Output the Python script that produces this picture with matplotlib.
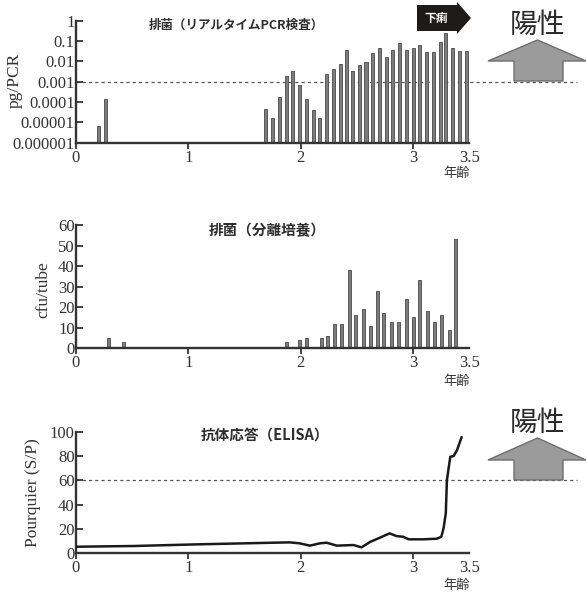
import numpy as np
import matplotlib
matplotlib.use("Agg")
import matplotlib.pyplot as plt
from matplotlib.patches import Polygon

# ---- data -------------------------------------------------------------
# Real-time PCR shedding (pg/PCR) by age in years
pcr_age = [0.20, 0.26, 1.69, 1.75, 1.81, 1.87, 1.93, 1.99, 2.05, 2.11, 2.17,
           2.23, 2.29, 2.35, 2.41, 2.46, 2.52, 2.58, 2.64, 2.70, 2.76, 2.82,
           2.88, 2.94, 3.00, 3.06, 3.12, 3.18, 3.24, 3.29, 3.35, 3.41, 3.47]
pcr_val = [6.6e-6, 1.4e-4, 4.6e-5, 1.7e-5, 1.7e-4, 2.0e-3, 3.5e-3, 6.6e-4,
           1.4e-4, 4.0e-5, 1.7e-5, 2.3e-3, 4.2e-3, 7.2e-3, 3.7e-2, 3.4e-3,
           6.6e-3, 9.5e-3, 2.7e-2, 4.5e-2, 1.6e-2, 3.7e-2, 7.9e-2, 3.7e-2,
           4.6e-2, 6.7e-2, 2.8e-2, 3.0e-2, 8.5e-2, 2.45e-1, 4.3e-2, 3.2e-2,
           3.2e-2]

# Culture shedding (cfu/tube)
cult_age = [0.29, 0.42, 1.87, 1.99, 2.05, 2.18, 2.24, 2.30, 2.36, 2.43, 2.49,
            2.56, 2.62, 2.68, 2.74, 2.81, 2.87, 2.94, 3.00, 3.06, 3.13, 3.19,
            3.25, 3.32, 3.38]
cult_val = [5, 3, 3, 4, 5, 5, 6, 12, 12, 38, 16, 19, 11, 28, 17, 13, 13, 24,
            15, 33, 18, 13, 16, 9, 53]

# ELISA antibody response (S/P, Pourquier)
elisa_age = [0.00, 0.51, 1.10, 1.90, 1.99, 2.08, 2.17, 2.23, 2.32, 2.47, 2.54,
             2.62, 2.71, 2.79, 2.85, 2.91, 2.96, 3.09, 3.21, 3.25, 3.27, 3.29,
             3.30, 3.33, 3.36, 3.39, 3.43]
elisa_val = [5.4, 6.0, 7.4, 9.0, 8.2, 6.3, 8.2, 8.7, 6.3, 6.8, 4.9, 9.5, 13.1,
             16.4, 14.2, 13.6, 11.5, 11.5, 12.0, 13.6, 20.5, 32.9, 60.2, 79.4,
             80.0, 84.9, 95.3]

pcr_cutoff = 1e-3
elisa_cutoff = 60

x_ticks = [0, 1, 2, 3, 3.5]
x_labels = ["0", "1", "2", "3", "3.5"]
pcr_ticks = [1e-6, 1e-5, 1e-4, 1e-3, 1e-2, 1e-1, 1]
pcr_labels = ["0.000001", "0.00001", "0.0001", "0.001", "0.01", "0.1", "1"]

# ---- style ------------------------------------------------------------
W, H = 586, 597
SERIF = ["Liberation Serif", "DejaVu Serif"]
JP = ["Noto Sans CJK JP", "DejaVu Sans"]
INK = "#333333"
BAR_FACE = "#7c7c7c"
BAR_EDGE = "#4a4a4a"

plt.rcParams["font.family"] = SERIF

fig = plt.figure(figsize=(W / 100, H / 100), dpi=100)


def fx(x):
    return x / W


def fy(y):
    return 1 - y / H


def make_axes(top_px, bottom_px):
    left, right = 76, 469.4
    ax = fig.add_axes([fx(left), fy(bottom_px), (right - left) / W,
                       (bottom_px - top_px) / H])
    for s in ("top", "right"):
        ax.spines[s].set_visible(False)
    for s in ("left", "bottom"):
        ax.spines[s].set_color(INK)
        ax.spines[s].set_linewidth(1.7)
    ax.set_xlim(0, 3.5)
    ax.set_xticks(x_ticks)
    ax.set_xticklabels(x_labels)
    ax.tick_params(axis="x", direction="out", length=4, width=1.3,
                   colors=INK, labelsize=12, pad=1)
    ax.tick_params(axis="y", direction="in", length=5, width=1.3,
                   colors=INK, labelsize=12, pad=1)
    ax.xaxis.get_major_ticks()[-1].tick1line.set_visible(False)
    ax.patch.set_alpha(0)
    for lab in ax.get_xticklabels() + ax.get_yticklabels():
        lab.set_color(INK)
    return ax


def y_label(x_px, y_px, text):
    fig.text(fx(x_px), fy(y_px), text, rotation=90, fontsize=12.5, color=INK,
             ha="center", va="center")


def up_arrow(y_top, y_neck, y_base):
    pts = [(488, y_neck), (537.5, y_top), (586, y_neck), (563, y_neck),
           (563, y_base), (514, y_base), (514, y_neck)]
    fig.add_artist(Polygon([(fx(a), fy(b)) for a, b in pts], closed=True,
                           transform=fig.transFigure, facecolor="#9b9b9b",
                           edgecolor="#6e6e6e", linewidth=1.0))


def age_label(y_px):
    fig.text(fx(470), fy(y_px), "年齢", family=JP, fontsize=9.5, color=INK,
             ha="right", va="center")


def title(x_px, y_px, text, size):
    fig.text(fx(x_px), fy(y_px), text, family=JP, fontweight="bold",
             fontsize=size, color="#2e2e2e", ha="center", va="center")


# ---- panel 1: real-time PCR --------------------------------------------
ax1 = make_axes(20.7, 142.7)
ax1.set_yscale("log")
ax1.set_ylim(1e-6, 1)
ax1.set_yticks(pcr_ticks)
ax1.set_yticklabels(pcr_labels)
ax1.yaxis.set_minor_locator(matplotlib.ticker.NullLocator())
ax1.bar(pcr_age, np.array(pcr_val) - 1e-6, bottom=1e-6, width=0.027,
        color=BAR_FACE, edgecolor=BAR_EDGE, linewidth=0.6, zorder=2)
ax1.plot([0, 4.46], [pcr_cutoff, pcr_cutoff], ls=(0, (2.5, 2.5)), lw=0.9,
         color="#555555", clip_on=False, zorder=1)
y_label(15, 80, "pg/PCR")
title(236, 25, "排菌（リアルタイムPCR検査）", 9)
age_label(174)

# diarrhoea marker: black arrow box
box = [(417, 5), (457, 5), (457, 2), (471, 18), (457, 34), (457, 31),
       (417, 31)]
fig.add_artist(Polygon([(fx(a), fy(b)) for a, b in box], closed=True,
                       transform=fig.transFigure, facecolor="#1e1a18",
                       edgecolor="none"))
fig.text(fx(436), fy(18), "下痢", family=JP, fontweight="bold", fontsize=8.5,
         color="white", ha="center", va="center")
fig.text(fx(537), fy(25), "陽性", family=JP, fontsize=20, color="#2a2a2a",
         ha="center", va="center")
up_arrow(40, 61, 81)

# ---- panel 2: culture ----------------------------------------------------
ax2 = make_axes(225, 348.3)
ax2.set_ylim(0, 60)
ax2.set_yticks(range(0, 61, 10))
ax2.bar(cult_age, cult_val, width=0.027, color=BAR_FACE, edgecolor=BAR_EDGE,
        linewidth=0.6, zorder=2)
y_label(43, 290, "cfu/tube")
title(267, 230, "排菌（分離培養）", 10.5)
age_label(382)

# ---- panel 3: ELISA ------------------------------------------------------
ax3 = make_axes(431.7, 553.3)
ax3.set_ylim(0, 100)
ax3.set_yticks(range(0, 101, 20))
ax3.plot(elisa_age, elisa_val, color="#1a1a1a", lw=1.8, zorder=3,
         solid_joinstyle="round")
ax3.plot([0, 4.46], [elisa_cutoff, elisa_cutoff], ls=(0, (2.5, 2.5)), lw=0.9,
         color="#555555", clip_on=False, zorder=1)
y_label(33, 493, "Pourquier (S/P)")
title(265, 436, "抗体応答（ELISA）", 10.5)
age_label(585)
fig.text(fx(537), fy(423), "陽性", family=JP, fontsize=20, color="#2a2a2a",
         ha="center", va="center")
up_arrow(438, 460, 480)

fig.savefig("out.png", dpi=100)
